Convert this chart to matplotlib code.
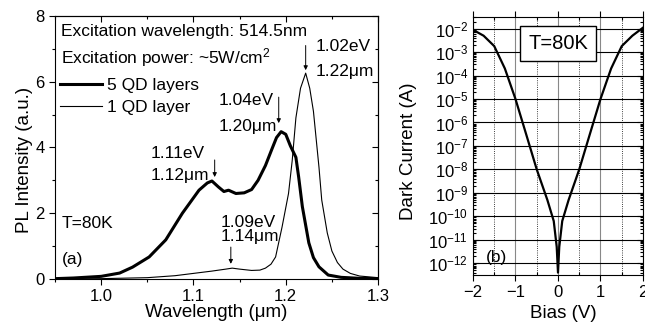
import matplotlib
matplotlib.use("Agg")
import matplotlib.pyplot as plt
from matplotlib.ticker import MultipleLocator, LogLocator, NullFormatter

plt.rcParams["font.family"] = ["Liberation Sans", "DejaVu Sans"]
plt.rcParams["mathtext.fontset"] = "custom"
plt.rcParams["mathtext.rm"] = "Liberation Sans"
plt.rcParams["mathtext.it"] = "Liberation Sans:italic"

# ── (a) PL spectra ─────────────────────────────
wl_5qd = [0.95, 0.97, 1.00, 1.02, 1.034, 1.052, 1.07, 1.088, 1.106, 1.115, 1.12,
          1.127, 1.133, 1.138, 1.146, 1.155, 1.163, 1.17, 1.178, 1.185, 1.19,
          1.195, 1.20, 1.205, 1.211, 1.214, 1.218, 1.225, 1.23, 1.236, 1.246,
          1.26, 1.28, 1.30]
pl_5qd = [0.01, 0.03, 0.08, 0.18, 0.36, 0.67, 1.19, 2.0, 2.7, 2.92, 2.98,
          2.8, 2.66, 2.7, 2.6, 2.62, 2.72, 3.0, 3.45, 3.95, 4.3,
          4.48, 4.4, 4.05, 3.7, 3.1, 2.2, 1.1, 0.65, 0.37, 0.12,
          0.05, 0.02, 0.01]

wl_1qd = [0.95, 1.00, 1.05, 1.08, 1.10, 1.12, 1.135, 1.142, 1.15, 1.163, 1.172,
          1.178, 1.184, 1.189, 1.196, 1.203, 1.207, 1.211, 1.216, 1.2216, 1.226,
          1.23, 1.236, 1.239, 1.245, 1.25, 1.256, 1.262, 1.27, 1.28, 1.30]
pl_1qd = [0.0, 0.01, 0.04, 0.1, 0.17, 0.24, 0.3, 0.33, 0.3, 0.26, 0.27,
          0.33, 0.45, 0.67, 1.58, 2.6, 3.6, 4.9, 5.8, 6.26, 5.8,
          5.1, 3.4, 2.4, 1.4, 0.85, 0.5, 0.3, 0.17, 0.09, 0.04]

# peak labels: arrow x, arrow tail/tip y, text x, eV / um text y
peak_x = [1.2216, 1.1924, 1.123, 1.1405]
arrow_tail = [7.1, 5.53, 3.62, 0.97]
arrow_tip = [6.35, 4.74, 3.1, 0.46]
label_x = [1.2324, 1.1276, 1.054, 1.1297]
ev_y = [7.06, 5.44, 3.83, 1.73]
um_y = [6.30, 4.65, 3.16, 1.28]
ev_text = ["1.02eV", "1.04eV", "1.11eV", "1.09eV"]
um_text = ["1.22\u03bcm", "1.20\u03bcm", "1.12\u03bcm", "1.14\u03bcm"]

# ── (b) dark current ───────────────────────────
bias = [-2.0, -1.75, -1.5, -1.25, -1.0, -0.75, -0.5, -0.25, -0.1, -0.03, 0.0,
        0.03, 0.1, 0.25, 0.5, 0.75, 1.0, 1.25, 1.5, 1.75, 2.0]
dark_current = [8.9e-3, 5.0e-3, 1.8e-3, 2.0e-4, 1.0e-5, 3.2e-7, 1.0e-8, 5.0e-10,
                6.3e-11, 5.0e-12, 4.0e-13, 5.0e-12, 6.3e-11, 5.0e-10, 1.0e-8,
                3.2e-7, 1.0e-5, 2.0e-4, 1.8e-3, 5.0e-3, 1.1e-2]

TXT = 12.5

fig = plt.figure(figsize=(6.45, 3.33), dpi=100)
ax = fig.add_axes([0.0853, 0.1622, 0.5008, 0.790])
ax2 = fig.add_axes([0.7333, 0.1742, 0.2636, 0.775])

ax.plot(wl_5qd, pl_5qd, color="black", lw=2.2, label="5 QD layers")
ax.plot(wl_1qd, pl_1qd, color="black", lw=0.8, label="1 QD layer")
ax.set_xlim(0.95, 1.30)
ax.set_ylim(0, 8)
ax.xaxis.set_major_locator(MultipleLocator(0.1))
ax.xaxis.set_minor_locator(MultipleLocator(0.05))
ax.yaxis.set_major_locator(MultipleLocator(2))
ax.yaxis.set_minor_locator(MultipleLocator(1))
ax.xaxis.set_major_formatter(plt.FuncFormatter(lambda v, p: f"{v:.1f}"))
ax.tick_params(which="both", direction="out", labelsize=12, width=0.8)
ax.tick_params(which="major", length=4)
ax.tick_params(which="minor", length=2.5)
# mirror ticks on top / right, pointing in
axt = ax.secondary_xaxis("top")
axt.xaxis.set_major_locator(MultipleLocator(0.1))
axt.xaxis.set_minor_locator(MultipleLocator(0.05))
axt.tick_params(which="both", direction="in", labeltop=False, width=0.8)
axt.tick_params(which="major", length=4)
axt.tick_params(which="minor", length=2.5)
axr = ax.secondary_yaxis("right")
axr.yaxis.set_major_locator(MultipleLocator(2))
axr.yaxis.set_minor_locator(MultipleLocator(1))
axr.tick_params(which="both", direction="in", labelright=False, width=0.8)
axr.tick_params(which="major", length=4)
axr.tick_params(which="minor", length=2.5)
ax.set_xlabel("Wavelength (\u03bcm)", fontsize=13.5)
ax.set_ylabel("PL Intensity (a.u.)", fontsize=13.5)
ax.xaxis.set_label_coords(0.5, -0.095)
ax.yaxis.set_label_coords(-0.068, 0.452)

for i in range(len(peak_x)):
    ax.annotate("", xy=(peak_x[i], arrow_tip[i]), xytext=(peak_x[i], arrow_tail[i]),
                arrowprops=dict(arrowstyle="-|>", lw=0.7, color="black",
                                mutation_scale=6, shrinkA=0, shrinkB=0))
    ax.text(label_x[i], ev_y[i], ev_text[i], fontsize=TXT, va="center", ha="left")
    ax.text(label_x[i], um_y[i], um_text[i], fontsize=TXT, va="center", ha="left")

ax.text(0.9565, 7.54, "Excitation wavelength: 514.5nm", fontsize=TXT, va="center")
ax.text(0.9565, 6.72, "Excitation power: ~5W/cm$^2$", fontsize=TXT, va="center")
ax.text(0.9576, 1.7, "T=80K", fontsize=TXT, va="center")
ax.text(0.9576, 0.58, "(a)", fontsize=TXT, va="center")
ax.legend(loc="upper left", bbox_to_anchor=(0.015, 0.765), frameon=False,
          fontsize=TXT, handlelength=2.4, handletextpad=0.3,
          borderpad=0, borderaxespad=0, labelspacing=0.38)

ax2.semilogy(bias, dark_current, color="black", lw=1.6)
ax2.set_xlim(-2, 2)
ax2.set_ylim(10 ** -12.5, 10 ** -1.5)
ax2.xaxis.set_major_locator(MultipleLocator(1))
ax2.xaxis.set_minor_locator(MultipleLocator(0.5))
ax2.yaxis.set_major_locator(LogLocator(base=10, numticks=20))
ax2.yaxis.set_minor_locator(LogLocator(base=10, subs=range(2, 10), numticks=20))
ax2.yaxis.set_minor_formatter(NullFormatter())
ax2.grid(which="major", axis="y", color="black", lw=0.8)
ax2.grid(which="major", axis="x", color="#888888", lw=0.8)
ax2.grid(which="minor", axis="x", color="black", lw=0.6, ls=":")
ax2.tick_params(which="both", direction="in", labelsize=12, width=0.8,
                top=True, right=True)
ax2.tick_params(which="major", length=4)
ax2.tick_params(which="minor", length=2.5)
ax2.tick_params(axis="x", which="major", direction="out")
ax2.set_xlabel("Bias (V)", fontsize=13.5)
ax2.set_ylabel("Dark Current (A)", fontsize=13.5)
ax2.xaxis.set_label_coords(0.53, -0.116)
ax2.yaxis.set_label_coords(-0.33, 0.48)
ax2.text(0.0, 10 ** -2.65, "T=80K", fontsize=14.5, ha="center", va="center",
         bbox=dict(boxstyle="square,pad=0.4", fc="white", ec="black", lw=1.0))
ax2.text(-1.7, 10 ** -11.75, "(b)", fontsize=TXT, va="center")

fig.savefig("out.png", dpi=100)
